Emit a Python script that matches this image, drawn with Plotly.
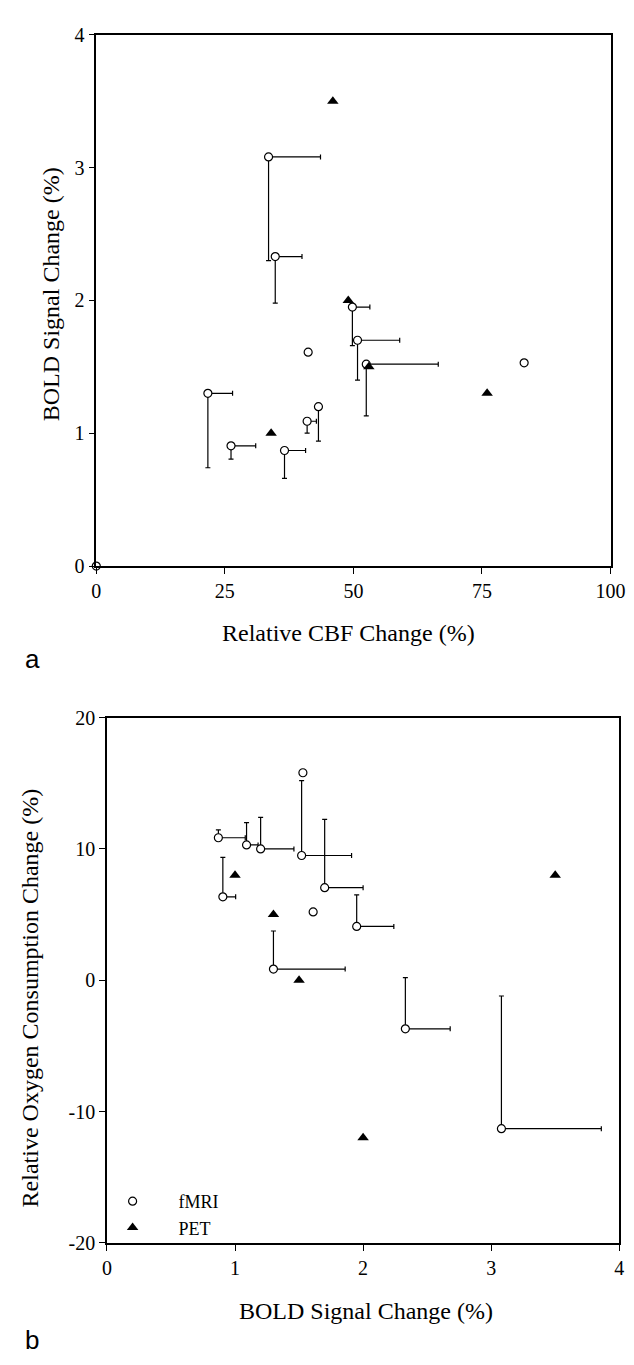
import plotly.graph_objects as go

# ---- fMRI studies (open circles) ----
cbf_change = [33.5, 34.8, 49.8, 50.8, 41.2, 52.5, 83.2, 21.7, 43.2, 41.0, 26.2, 36.6]
cbf_err = [10.1, 5.2, 3.4, 8.2, 0, 14.0, 0, 4.8, 0, 1.8, 4.8, 4.1]
bold_change = [3.08, 2.33, 1.95, 1.70, 1.61, 1.52, 1.53, 1.30, 1.20, 1.09, 0.905, 0.87]
bold_err = [0.78, 0.35, 0.29, 0.30, 0, 0.39, 0, 0.56, 0.26, 0.09, 0.10, 0.21]
cmro2_change = [-11.3, -3.7, 4.1, 7.05, 5.2, 9.5, 15.8, 0.85, 10.0, 10.3, 6.35, 10.85]
cmro2_err = [10.1, 3.9, 2.4, 5.2, 0, 5.7, 0, 2.9, 2.4, 1.7, 3.0, 0.6]

# ---- PET studies (filled triangles) ----
pet_cbf = [46, 49, 53, 76, 34]
pet_bold = [3.5, 2.0, 1.5, 1.3, 1.0]
pet_cmro2 = [8, -12, 0, 5, 8]

# origin point in panel a
origin_x = [0]
origin_y = [0]

# ---- tick labels ----
a_xticks = [0, 25, 50, 75, 100]
a_yticks = [0, 1, 2, 3, 4]
b_xticks = [0, 1, 2, 3, 4]
b_yticks = [-20, -10, 0, 10, 20]

zeros = [0] * len(cbf_change)
W, H = 634, 1365
SERIF = "'Liberation Serif', 'Times New Roman', serif"
SANS = "'Liberation Sans', Arial, sans-serif"

circle = dict(symbol="circle", size=8, color="white", line=dict(color="black", width=1.2))
triangle = dict(symbol="triangle-up", size=10, color="black", line=dict(color="black", width=0))
eb = dict(type="data", symmetric=False, color="black", thickness=1.2, width=2.5)

fig = go.Figure()

# Panel a
fig.add_trace(go.Scatter(
    x=cbf_change, y=bold_change, mode="markers", marker=circle, name="fMRI",
    error_x=dict(eb, array=cbf_err, arrayminus=zeros),
    error_y=dict(eb, array=zeros, arrayminus=bold_err),
    xaxis="x", yaxis="y", showlegend=False))
fig.add_trace(go.Scatter(
    x=origin_x, y=origin_y, mode="markers", marker=circle, cliponaxis=False,
    xaxis="x", yaxis="y", showlegend=False))
fig.add_trace(go.Scatter(
    x=pet_cbf, y=pet_bold, mode="markers", marker=triangle, name="PET",
    xaxis="x", yaxis="y", showlegend=False))

# Panel b
fig.add_trace(go.Scatter(
    x=bold_change, y=cmro2_change, mode="markers", marker=circle, name="fMRI",
    error_x=dict(eb, array=bold_err, arrayminus=zeros),
    error_y=dict(eb, array=cmro2_err, arrayminus=zeros),
    xaxis="x2", yaxis="y2", legendgroup="f"))
fig.add_trace(go.Scatter(
    x=pet_bold, y=pet_cmro2, mode="markers", marker=triangle, name="PET",
    xaxis="x2", yaxis="y2", legendgroup="p"))

axis_common = dict(
    showline=True, linecolor="black", linewidth=1.5, mirror=True,
    ticks="outside", ticklen=6, tickwidth=1.2, tickcolor="black",
    showgrid=False, zeroline=False,
    tickfont=dict(family=SERIF, size=20, color="black"),
)

fig.update_layout(
    width=W, height=H,
    margin=dict(l=0, r=0, t=0, b=0),
    paper_bgcolor="white", plot_bgcolor="white",
    font=dict(family=SERIF, color="black"),
    xaxis=dict(axis_common, domain=[86 / W, 617 / W], range=[0, 100],
               tickvals=a_xticks, ticktext=[str(v) for v in a_xticks], anchor="y"),
    yaxis=dict(axis_common, domain=[1 - 556 / H, 1 - 16 / H], range=[0, 4],
               tickvals=a_yticks, ticktext=[str(v) for v in a_yticks], anchor="x"),
    xaxis2=dict(axis_common, domain=[97 / W, 626 / W], range=[0, 4],
                tickvals=b_xticks, ticktext=[str(v) for v in b_xticks], anchor="y2"),
    yaxis2=dict(axis_common, domain=[1 - 1244 / H, 1 - 710 / H], range=[-20, 20],
                tickvals=b_yticks, ticktext=[str(v) for v in b_yticks], anchor="x2"),
    legend=dict(x=76 / W, y=1 - 1183 / H, xanchor="left", yanchor="top",
                bgcolor="rgba(0,0,0,0)", font=dict(family=SERIF, size=18, color="black"),
                itemwidth=82, tracegroupgap=0, traceorder="grouped"),
    annotations=[
        dict(text="Relative CBF Change (%)", x=346 / W, y=1 - 624 / H, xref="paper", yref="paper",
             showarrow=False, font=dict(family=SERIF, size=24, color="black"), xanchor="center", yanchor="middle"),
        dict(text="BOLD Signal Change (%)", x=40 / W, y=1 - 280 / H, xref="paper", yref="paper",
             showarrow=False, textangle=-90, font=dict(family=SERIF, size=24, color="black"),
             xanchor="center", yanchor="middle"),
        dict(text="BOLD Signal Change (%)", x=365 / W, y=1 - 1313 / H, xref="paper", yref="paper",
             showarrow=False, font=dict(family=SERIF, size=24, color="black"), xanchor="center", yanchor="middle"),
        dict(text="Relative Oxygen Consumption Change (%)", x=18 / W, y=1 - 995 / H, xref="paper", yref="paper",
             showarrow=False, textangle=-90, font=dict(family=SERIF, size=24, color="black"),
             xanchor="center", yanchor="middle"),
        dict(text="a", x=10 / W, y=1 - 650 / H, xref="paper", yref="paper", showarrow=False,
             font=dict(family=SANS, size=26, color="black"), xanchor="left", yanchor="middle"),
        dict(text="b", x=10 / W, y=1 - 1343 / H, xref="paper", yref="paper", showarrow=False,
             font=dict(family=SANS, size=26, color="black"), xanchor="left", yanchor="middle"),
    ],
)

fig.write_html("out.html")
